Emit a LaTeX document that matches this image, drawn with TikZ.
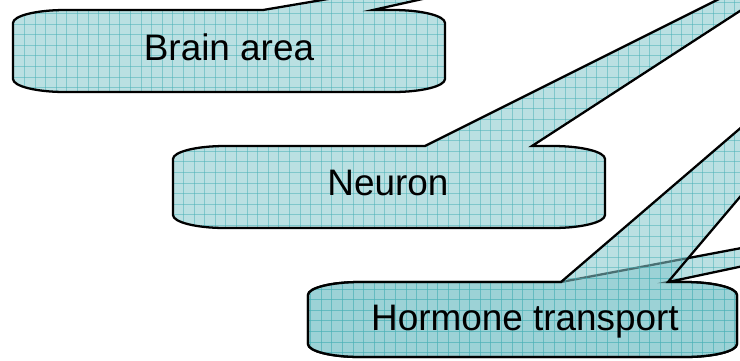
\documentclass[tikz,border=0pt]{standalone}
\usepackage{fontspec}
\setmainfont{Liberation Sans}
\usepackage{tikz}
\definecolor{calloutcyan}{HTML}{85C8CC}
\definecolor{calloutgrid}{HTML}{46B0B6}
\tikzset{
  callfill/.style={fill=calloutcyan,fill opacity=0.565},
  callgrid/.style={draw=calloutgrid,draw opacity=0.5,line width=0.5pt},
  calledge/.style={draw=black,line width=1.3pt,line join=miter},
  calltext/.style={font=\fontsize{21}{25}\selectfont,anchor=base,inner sep=0pt},
}
\newcommand{\rx}{52}
\newcommand{\ry}{13}
% box: left, top, right, bottom, base left, base right, far left, far right
\newcommand{\callpath}[8]{(#1,#2+\ry) .. controls (#1,#2+0.448*\ry) and (#1+0.448*\rx,#2) .. (#1+\rx,#2)
  -- (#5,#2) -- (#7) -- (#8) -- (#6,#2) -- (#3-\rx,#2)
  .. controls (#3-0.448*\rx,#2) and (#3,#2+0.448*\ry) .. (#3,#2+\ry) -- (#3,#4-\ry)
  .. controls (#3,#4-0.448*\ry) and (#3-0.448*\rx,#4) .. (#3-\rx,#4) -- (#1+\rx,#4)
  .. controls (#1+0.448*\rx,#4) and (#1,#4-0.448*\ry) .. (#1,#4-\ry) -- cycle}
\newcommand{\callout}[8]{%
  \fill[callfill] \callpath{#1}{#2}{#3}{#4}{#5}{#6}{#7}{#8};
  \begin{scope}
    \clip \callpath{#1}{#2}{#3}{#4}{#5}{#6}{#7}{#8};
    \foreach \gx in {3.3,13.9,...,740} \draw[callgrid] (\gx,0) -- (\gx,360);
    \foreach \gy in {2.9,13.5,...,360} \draw[callgrid] (0,\gy) -- (740,\gy);
  \end{scope}
  \draw[calledge] \callpath{#1}{#2}{#3}{#4}{#5}{#6}{#7}{#8};}

\begin{document}
\begin{tikzpicture}[x=0.02cm,y=-0.02cm]
  \useasboundingbox (0,0) rectangle (740,360);
  \clip (0,0) rectangle (740,360);
  \callout{13}{10}{445}{92}{263}{373}{440,-20}{508,-20}
  \callout{173}{146}{605}{228}{425}{532}{777,-30}{803,-30}
  \callout{308}{282}{737}{357}{561}{668}{800,237}{800,254}
  \callout{308}{282}{737}{357}{561}{668}{800,77}{800,126}
  \node[calltext] (brain) at (229,60) {Brain area};
  \node[calltext] (neuron) at (388,195) {Neuron};
  \node[calltext] (hormone) at (525,330) {Hormone transport};
\end{tikzpicture}
\end{document}
